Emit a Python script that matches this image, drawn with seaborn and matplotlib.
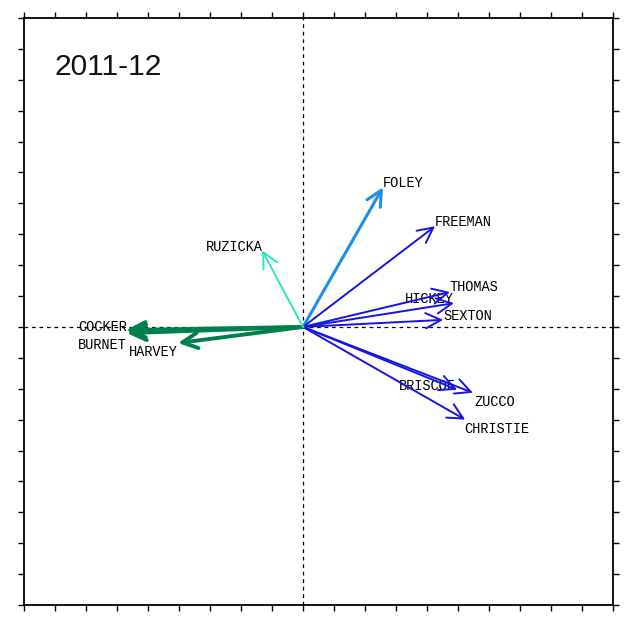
import seaborn as sns
import matplotlib.pyplot as plt


# player vectors for the season, in plot units (one tick = 1)
names = ['FOLEY', 'FREEMAN', 'THOMAS', 'HICKEY', 'SEXTON', 'BRISCOE', 'ZUCCO',
         'CHRISTIE', 'COCKER', 'BURNET', 'HARVEY', 'RUZICKA']
tip_x = [2.58, 4.26, 4.74, 4.87, 4.52, 4.97, 5.48, 5.23, -5.71, -5.68, -4.03, -1.32]
tip_y = [4.52, 3.26, 1.13, 0.77, 0.23, -2.03, -2.13, -3.00, -0.10, -0.20, -0.52, 2.48]
label_x = [2.58, 4.26, 4.71, 3.29, 4.52, 3.10, 5.52, 5.19, -7.26, -7.26, -5.61, -3.13]
label_y = [4.65, 3.39, 1.29, 0.90, 0.35, -1.90, -2.42, -3.29, 0.0, -0.58, -0.81, 2.58]
groups = ['light', 'blue', 'blue', 'blue', 'blue', 'blue', 'blue', 'blue',
          'green', 'green', 'green', 'aqua']
season = '2011-12'

colours = {'light': '#1E8FE8', 'blue': '#1414E6', 'green': '#00804A', 'aqua': '#2BE6BE'}
widths = {'light': 2.2, 'blue': 1.4, 'green': 2.8, 'aqua': 1.4}

sns.set_style('white')
fig = plt.figure(figsize=(6.29, 6.27), dpi=100)
ax = fig.add_axes([24 / 629, 1 - 605 / 627, 589 / 629, 587 / 627])
ax.set_xlim(-9, 10)
ax.set_ylim(-9, 10)

ax.axhline(0, color='black', lw=0.9, ls=(0, (3, 3)), zorder=1)
ax.axvline(0, color='black', lw=0.9, ls=(0, (3, 3)), zorder=1)

for name, lx, ly in zip(names, label_x, label_y):
    ax.text(lx, ly, name, ha='left', va='center', fontsize=9.8,
            family='Liberation Mono', color='black', zorder=2)

for x, y, g in zip(tip_x, tip_y, groups):
    ax.annotate('', xy=(x, y), xytext=(0, 0),
                arrowprops=dict(arrowstyle='->,head_length=1.1,head_width=0.55',
                                color=colours[g], lw=widths[g],
                                shrinkA=0, shrinkB=0, mutation_scale=10),
                zorder=3)

ax.text(0.051, 0.9165, season, transform=ax.transAxes, ha='left', va='center',
        fontsize=21.5, family='Liberation Sans', color='#111111')

ax.set_xticks(range(-9, 11))
ax.set_yticks(range(-9, 11))
ax.set_xticklabels([])
ax.set_yticklabels([])
ax.tick_params(direction='out', length=4, width=1, color='black',
               top=True, right=True, bottom=True, left=True)
for spine in ax.spines.values():
    spine.set_color('black')
    spine.set_linewidth(1.3)

fig.savefig('out.png', dpi=100)
